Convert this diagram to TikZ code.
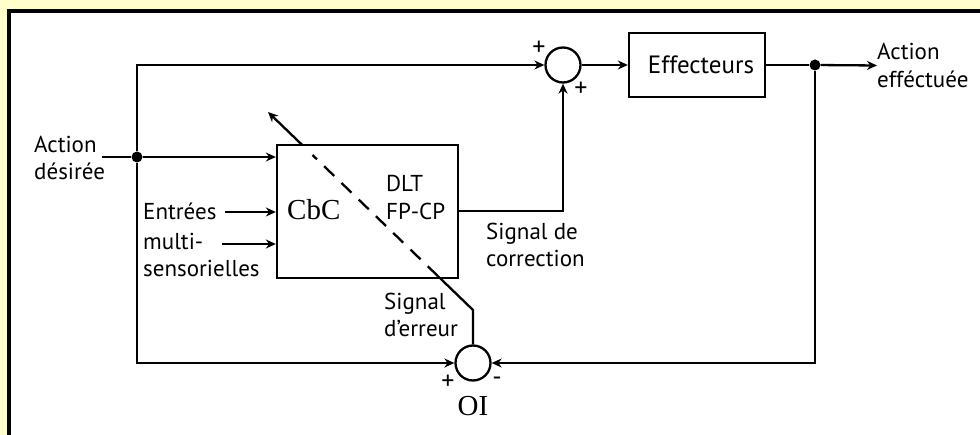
\documentclass[tikz,border=0pt]{standalone}
\usepackage{fontspec}
\setmainfont{PT Sans}
\newfontfamily\serf{Liberation Serif}
\usetikzlibrary{arrows.meta,calc}
\definecolor{bgyellow}{HTML}{FFFFCC}
\tikzset{
  wire/.style={line width=2.3pt},
  arr/.style={wire,-{Stealth[length=10pt,width=9pt]}},
  box/.style={draw,line width=2.3pt,inner sep=0pt},
  sumc/.style={draw,circle,line width=2.3pt,minimum size=35pt,inner sep=0pt},
  dotn/.style={circle,fill=black,minimum size=11pt,inner sep=0pt},
  lbl/.style={font=\fontsize{23}{27.5}\selectfont,align=left,inner sep=0pt},
  sgn/.style={font=\fontsize{26}{28}\selectfont,inner sep=0pt},
  big/.style={font=\serf\fontsize{29}{32}\selectfont,inner sep=0pt}
}
\begin{document}
\begin{tikzpicture}[x=1pt,y=-1pt]
\useasboundingbox (0,0) rectangle (980,435);
\fill[bgyellow] (0,0) rectangle (980,435);
\filldraw[fill=white,draw=black,line width=3.5pt] (9,11) rectangle (995,450);

% blocks
\node[box,minimum width=136pt,minimum height=64pt] (eff) at (697,65) {};
\node[lbl,font=\fontsize{25}{27.5}\selectfont] (efft) at (701,65) {Effecteurs};
\node[box,minimum width=181pt,minimum height=133pt] (cbc) at (367.5,211.5) {};
\node[sumc] (s1) at (563,65) {};
\node[sumc] (oi) at (473,363) {};
\node[dotn] (dl) at (137,157) {};
\node[dotn] (dr) at (815,65) {};

% labels
\node[lbl,anchor=west] (ad) at (34,158) {Action\\désirée};
\node[lbl,anchor=west] (ae) at (877,65.5) {Action\\efféctuée};
\node[lbl,anchor=base west] (e1) at (143,220) {Entrées};
\node[lbl,anchor=base west] (e2) at (143,250) {multi-};
\node[lbl,anchor=base west] (e3) at (143,277) {sensorielles};
\node[big,anchor=base west] (cbct) at (287,220) {CbC};
\node[lbl,anchor=west] (dlt) at (386,197.5) {DLT\\FP-CP};
\node[lbl,anchor=west] (sc) at (486,245) {Signal de\\correction};
\node[lbl,anchor=west] (se) at (384,315) {Signal\\d’erreur};
\node[big,anchor=base] (oit) at (473,416) {OI};
\node[sgn] (p1) at (539,48) {+};
\node[sgn] (p2) at (581,89) {+};
\node[sgn] (p3) at (448,382) {+};
\node[sgn] (m3) at (497,381) {-};

% coordinates
\coordinate (a0) at (102,157);
\coordinate (e0) at (225,212);
\coordinate (m0) at (222,244);
\coordinate (bend) at (473,310);
\coordinate (d1) at (437.8,276);
\coordinate (d2) at (312.5,155);
\coordinate (d3) at (302.2,145);
\coordinate (tip) at (268,112);
\coordinate (cout) at (458,211);

% connectors
\draw[wire] (a0) -- (dl);
\draw[arr] (dl) -- (dl -| cbc.west);
\draw[arr] (dl) |- (s1.west);
\draw[arr] (dl) |- (oi.west);
\draw[arr] (e0) -- (e0 -| cbc.west);
\draw[arr] (m0) -- (m0 -| cbc.west);
\draw[arr] (cout) -| (s1.south);
\draw[arr] (s1.east) -- (eff.west);
\draw[wire] (eff.east) -- (dr);
\draw[arr] (dr) -- (ae.west);
\draw[arr] (dr) |- (oi.east);
\draw[wire] (oi.north) -- (bend) -- (d1);
\draw[wire,dash pattern=on 14pt off 10pt] (d1) -- (d2);
\draw[arr] (d3) -- (tip);
\end{tikzpicture}
\end{document}
